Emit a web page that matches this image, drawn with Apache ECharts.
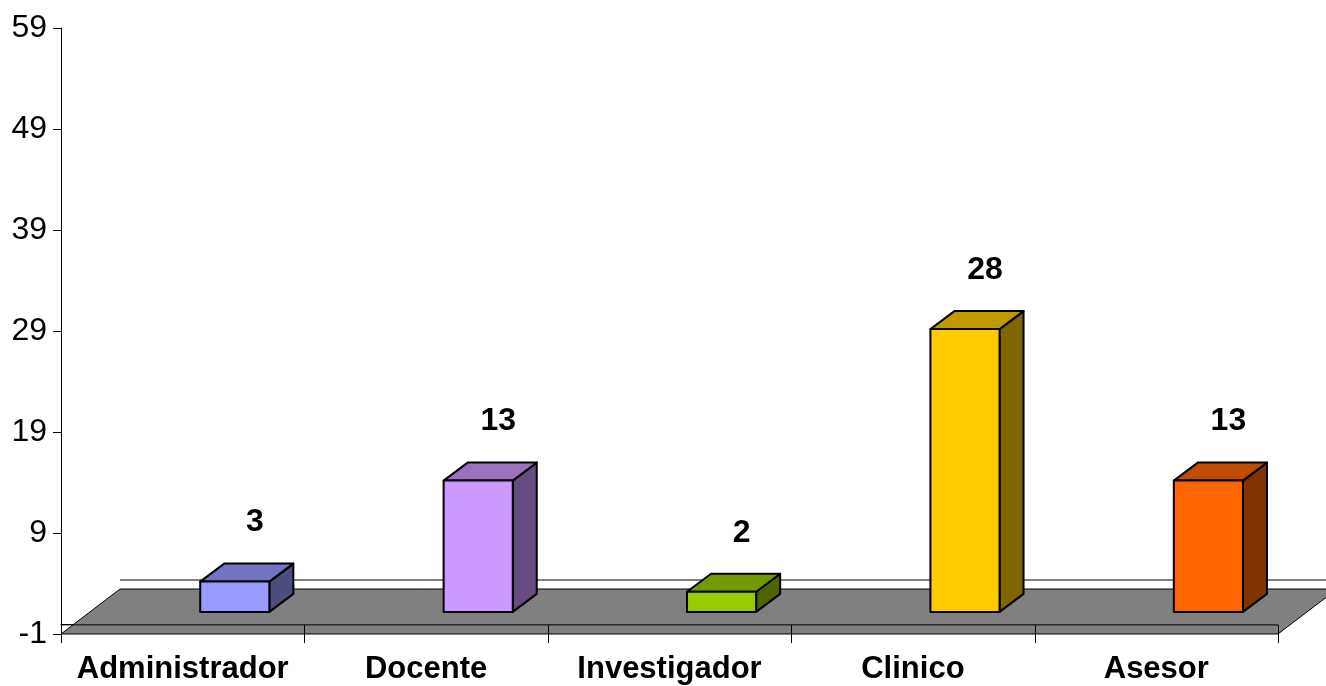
<!DOCTYPE html>
<html>
<head>
<meta charset="utf-8">
<script src="https://cdn.jsdelivr.net/npm/echarts@6/dist/echarts.min.js"></script>
<style>
html,body{margin:0;padding:0;background:#fff;}
#chart{width:1326px;height:686px;}
</style>
</head>
<body>
<div id="chart"></div>
<script>
const categories = ['Administrador', 'Docente', 'Investigador', 'Clinico', 'Asesor'];
const values = [3, 13, 2, 28, 13];
const yTicks = [-1, 9, 19, 29, 39, 49, 59];
const frontColors = ['#9999FF', '#CC99FF', '#99CC00', '#FFCC00', '#FF6600'];
const topColors = ['#7373BF', '#9973BF', '#739900', '#BF9900', '#BF4C00'];
const sideColors = ['#4D4D80', '#664D80', '#4D6600', '#806600', '#803300'];

const FONT = 'Liberation Sans, Arial, Helvetica, sans-serif';
const chart = echarts.init(document.getElementById('chart'), null, {renderer: 'canvas'});

// 3D projection offsets (pixels)
const FLOOR_DX = 59, FLOOR_DY = 45;
const BAR_DX = 24, BAR_DY = 18, BAR_LIFT = 12;

function renderFloor(params, api) {
  const cs = params.coordSys;
  const x0 = cs.x, x1 = cs.x + cs.width;
  const yb = api.coord([0, yTicks[0]])[1];
  const y0 = api.coord([0, 0])[1];
  const children = [];
  children.push({
    type: 'polygon',
    shape: {points: [[x0, yb], [x0 + FLOOR_DX, yb - FLOOR_DY], [x1 + FLOOR_DX, yb - FLOOR_DY], [x1, yb]]},
    style: {fill: '#808080', stroke: '#000', lineWidth: 1}
  });
  // back wall base line (value 0 on back wall)
  children.push({
    type: 'line',
    shape: {x1: x0 + FLOOR_DX, y1: y0 - FLOOR_DY + 1, x2: x1 + FLOOR_DX + 20, y2: y0 - FLOOR_DY + 1},
    style: {stroke: '#808080', lineWidth: 2}
  });
  // front-top edge of floor
  children.push({
    type: 'line',
    shape: {x1: x0, y1: y0 + 1, x2: x1, y2: y0 + 1},
    style: {stroke: '#000', lineWidth: 1}
  });
  const band = cs.width / categories.length;
  for (let k = 0; k <= categories.length; k++) {
    const x = Math.round(x0 + band * k) + 0.5;
    children.push({
      type: 'line',
      shape: {x1: x, y1: k === 0 ? yb : y0 + 1, x2: x, y2: yb + 9},
      style: {stroke: '#000', lineWidth: 1}
    });
  }
  return {type: 'group', children: children};
}

function renderBar(params, api) {
  const i = api.value(0), v = api.value(1);
  const base = api.coord([i, 0]);
  const top = api.coord([i, v]);
  const band = api.size([1, 0])[0];
  const cx = base[0] + band * 0.214;
  const w = band * 0.284;
  const xl = cx - w / 2, xr = cx + w / 2;
  const yb = base[1] - BAR_LIFT, yt = top[1] - BAR_LIFT;
  const idx = params.dataIndex;
  const stroke = {stroke: '#000', lineWidth: 2, lineJoin: 'round'};
  return {
    type: 'group',
    children: [
      {type: 'polygon', shape: {points: [[xr, yt], [xr + BAR_DX, yt - BAR_DY], [xr + BAR_DX, yb - BAR_DY], [xr, yb]]},
        style: Object.assign({fill: sideColors[idx]}, stroke)},
      {type: 'polygon', shape: {points: [[xl, yt], [xl + BAR_DX, yt - BAR_DY], [xr + BAR_DX, yt - BAR_DY], [xr, yt]]},
        style: Object.assign({fill: topColors[idx]}, stroke)},
      {type: 'rect', shape: {x: xl, y: yt, width: w, height: yb - yt},
        style: Object.assign({fill: frontColors[idx]}, stroke)},
      {type: 'text', x: cx + 20, y: yt - 59,
        style: {text: String(v), font: 'bold 32px ' + FONT, fill: '#000', align: 'center', verticalAlign: 'middle'}}
    ]
  };
}

chart.setOption({
  animation: false,
  backgroundColor: '#fff',
  grid: {left: 61, right: 48, top: 28, bottom: 52, containLabel: false},
  xAxis: {
    type: 'category',
    data: categories,
    axisLine: {lineStyle: {color: '#000', width: 1}},
    axisTick: {show: true, length: 9, lineStyle: {color: '#000'}},
    axisLabel: {color: '#000', fontFamily: FONT, fontWeight: 'bold', fontSize: 31, margin: 20, interval: 0},
    splitLine: {show: false}
  },
  yAxis: {
    type: 'value',
    min: yTicks[0],
    max: yTicks[yTicks.length - 1],
    axisLine: {show: true, lineStyle: {color: '#000', width: 1}},
    axisTick: {show: true, length: 8, lineStyle: {color: '#000'}, customValues: yTicks},
    axisLabel: {color: '#000', fontFamily: FONT, fontSize: 32, margin: 14, customValues: yTicks},
    splitLine: {show: false}
  },
  series: [
    {
      type: 'custom',
      renderItem: renderFloor,
      data: [[0, 0]],
      z: 1,
      silent: true
    },
    {
      type: 'custom',
      renderItem: renderBar,
      encode: {x: 0, y: 1},
      data: categories.map((c, i) => [i, values[i]]),
      z: 3
    }
  ]
});
</script>
</body>
</html>
